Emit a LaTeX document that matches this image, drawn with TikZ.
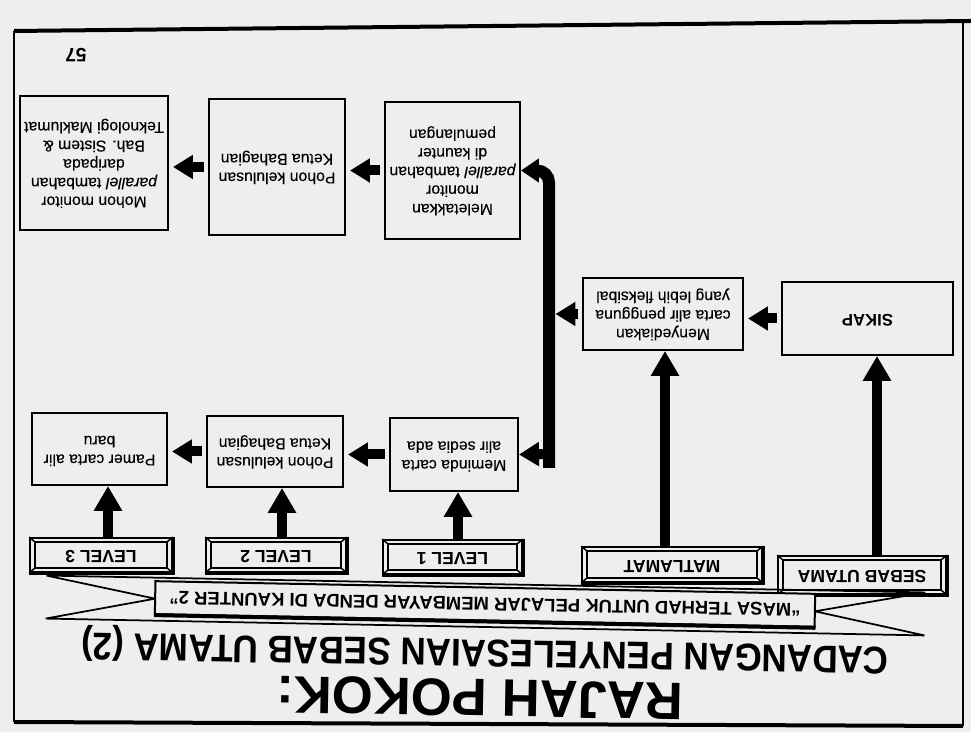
\documentclass[tikz,border=0pt]{standalone}
\usepackage{fontspec}
\setmainfont{Liberation Sans}
\newfontfamily\bx{Liberation Sans}[FakeBold=0.2]
\usetikzlibrary{arrows.meta,calc}
\definecolor{paper}{RGB}{238,238,236}
\newcommand\ud[1]{\rotatebox[origin=c]{180}{\begin{tabular}{@{}c@{}}#1\end{tabular}}}
\newcommand\bevel[1]{%
  \draw[line width=0.3mm] ($(#1.north west)+(6,5)$) rectangle ($(#1.south east)+(-6,-5)$);
  \draw[line width=0.3mm] (#1.north west) -- ++(6,5) (#1.north east) -- ++(-6,5)
        (#1.south west) -- ++(6,-5) (#1.south east) -- ++(-6,-5);
  \draw[line width=0.8mm] (#1.south west) -- (#1.south east) -- (#1.north east);}
\begin{document}
\begin{tikzpicture}[x=0.02cm,y=-0.02cm,
  cbox/.style={draw, line width=0.4mm, fill=paper, inner sep=0pt, font=\bx\fontsize{9}{10.6}\selectfont},
  hbox/.style={draw, line width=0.35mm, fill=paper, inner sep=0pt, font=\fontsize{10}{12}\selectfont\bfseries},
  bigarrow/.style={line width=2mm, -{Triangle[width=5.4mm,length=5mm]}},
  smallarrow/.style={line width=2mm, -{Triangle[width=4.6mm,length=4mm]}, shorten <=0.8mm, shorten >=0.8mm}]
\fill[paper] (0,0) rectangle (971,732);
\useasboundingbox (0,0) rectangle (971,732);

% frame
\draw[line width=0.8mm] (14,31) -- (971,21);
\draw[line width=0.35mm] (14,31) -- (14,722);
\draw[line width=0.8mm] (14,722) -- (963,726);
\draw[line width=0.35mm] (963,22) -- (963,726);

\node[font=\fontsize{11}{13}\selectfont\bfseries] (pg) at (76,55) {\rotatebox{180}{57}};

% content boxes
\node[cbox, minimum width=3.42cm, minimum height=1.46cm, font=\fontsize{9.5}{11}\selectfont\bfseries] (sikap) at (867.5,318.5) {\ud{SIKAP}};
\node[cbox, minimum width=3.2cm, minimum height=1.44cm] (meny) at (663,314) {\ud{Menyediakan\\carta alir pengguna\\yang lebih fleksibal}};
\node[cbox, minimum width=2.7cm, minimum height=2.74cm] (melet) at (452.5,170.5) {\ud{Meletakkan\\monitor\\\textit{parallel} tambahan\\di kaunter\\pemulangan}};
\node[cbox, minimum width=2.72cm, minimum height=2.72cm] (poh1) at (277,167) {\ud{Pohon kelulusan\\Ketua Bahagian}};
\node[cbox, minimum width=2.96cm, minimum height=2.68cm] (mohon) at (94,163) {\ud{Mohon monitor\\\textit{parallel} tambahan\\daripada\\Bah. Sistem \&\\Teknologi Maklumat}};
\node[cbox, minimum width=2.56cm, minimum height=1.46cm] (memi) at (454,454.5) {\ud{Meminda carta\\alir sedia ada}};
\node[cbox, minimum width=2.72cm, minimum height=1.42cm] (poh2) at (275,451.5) {\ud{Pohon kelulusan\\Ketua Bahagian}};
\node[cbox, minimum width=2.7cm, minimum height=1.44cm] (pamer) at (99.5,449) {\ud{Pamer carta alir\\baru}};

% header boxes
\node[hbox, minimum width=2.84cm, minimum height=0.68cm] (lv3) at (101,555) {\ud{LEVEL 3}};
\node[hbox, minimum width=2.8cm, minimum height=0.68cm] (lv2) at (276,555) {\ud{LEVEL 2}};
\node[hbox, minimum width=2.78cm, minimum height=0.68cm] (lv1) at (452.5,557) {\ud{LEVEL 1}};
\node[hbox, minimum width=3.6cm, minimum height=0.7cm] (mat) at (672,564.5) {\ud{MATLAMAT}};
\node[hbox, minimum width=3.36cm, minimum height=0.76cm] (sebab) at (862,575) {\ud{SEBAB UTAMA}};
\bevel{lv3}\bevel{lv2}\bevel{lv1}\bevel{mat}\bevel{sebab}

% vertical arrows
\coordinate (xs) at (877,0);
\coordinate (xm) at (665,0);
\coordinate (x1) at (458,0);
\coordinate (x2) at (282,0);
\coordinate (x3) at (108,0);
\draw[bigarrow] (sebab.north -| xs) -- (sikap.south -| xs);
\draw[bigarrow] (mat.north -| xm) -- (meny.south -| xm);
\draw[bigarrow] (lv1.north -| x1) -- (memi.south -| x1);
\draw[bigarrow] (lv2.north -| x2) -- (poh2.south -| x2);
\draw[bigarrow] (lv3.north -| x3) -- (pamer.south -| x3);

% bus
\coordinate (vbot) at (549,468);
\coordinate (vb) at (549,454);
\draw[line width=2.4mm, rounded corners=2.4mm, -{Triangle[width=4.6mm,length=3.6mm]}] (vbot) |- (melet.east);
\draw[smallarrow, shorten <=0pt, shorten >=0pt] (vb) -- (memi.east);

% horizontal arrows
\draw[smallarrow] (sikap.west) -- (sikap.west -| meny.east);
\draw[smallarrow, shorten >=1.3mm] (meny.west) -- (meny.west -| vbot);
\draw[smallarrow] (melet.west) -- (melet.west -| poh1.east);
\draw[smallarrow] (poh1.west) -- (poh1.west -| mohon.east);
\draw[smallarrow] (memi.west) -- (memi.west -| poh2.east);
\draw[smallarrow] (poh2.west) -- (poh2.west -| pamer.east);

% banner
\begin{scope}[rotate around={-1.1:(485,605)}, transform shape]
  \draw[line width=0.35mm] (46,584) -- (925,584) (46,627) -- (925,627)
     (46,584) -- (155,605) -- (46,627) (925,584) -- (815,605) -- (925,627);
  \node[draw, line width=0.4mm, fill=paper, minimum width=13.2cm, minimum height=0.66cm, inner sep=0pt,
        font=\fontsize{10.5}{12}\selectfont\bfseries] (banner) at (485,604)
        {\rotatebox{180}{“MASA TERHAD UNTUK PELAJAR MEMBAYAR DENDA DI KAUNTER 2”}};
  \draw[line width=0.8mm] (banner.south west) -- (banner.south east);
\end{scope}

% titles
\node[rotate=-1.0, font=\fontsize{20}{22}\selectfont\bfseries, inner sep=0pt] (title2) at (485,650)
   {\scalebox{1}[1.1]{\rotatebox{180}{CADANGAN PENYELESAIAN SEBAB UTAMA (2)}}};
\node[rotate=-1.0, font=\fontsize{30}{32}\selectfont\bfseries, inner sep=0pt] (title1) at (480,698)
   {\rotatebox{180}{RAJAH POKOK:}};
\end{tikzpicture}
\end{document}
